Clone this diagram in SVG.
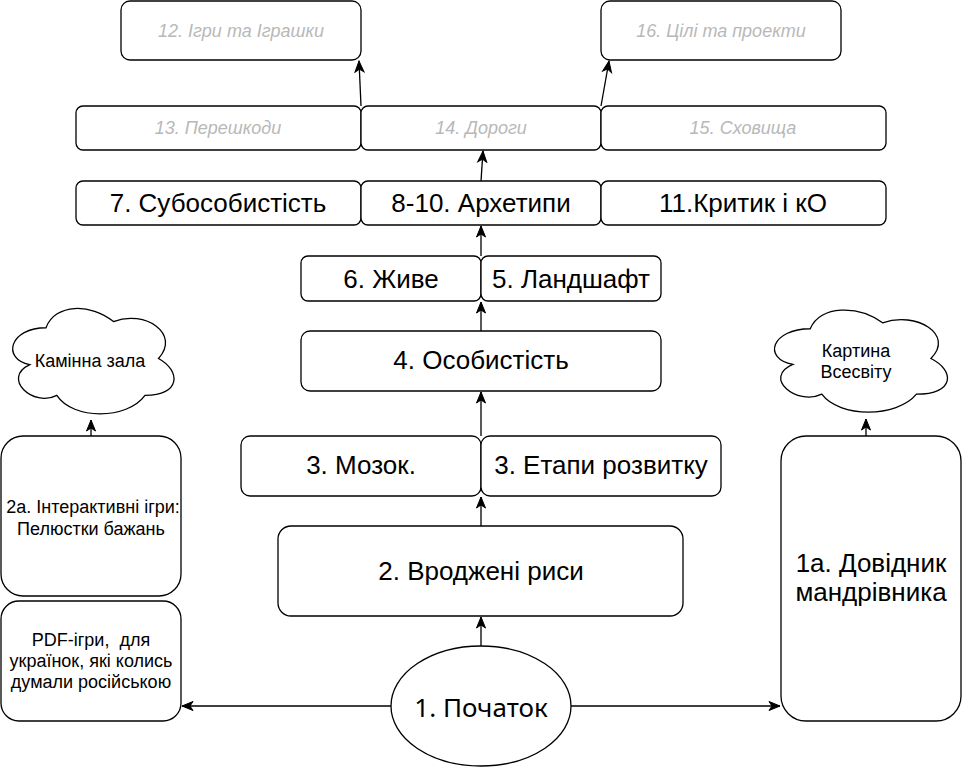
<svg xmlns="http://www.w3.org/2000/svg" width="962" height="767" viewBox="0 0 962 767">
<defs>
<style>
.b{fill:#fff;stroke:#000;stroke-width:1.3}
.t{font-family:"Liberation Sans",Arial,sans-serif;fill:#000;text-anchor:middle}
.l{font-size:26px}
.s{font-size:18px}
.c{font-size:18px}
.g{font-size:18px;font-style:italic;fill:#B8B8B8}
.e{stroke:#000;stroke-width:1.3;fill:none;marker-end:url(#a)}
</style>
<marker id="a" markerUnits="userSpaceOnUse" markerWidth="14" markerHeight="12" viewBox="0 0 14 12" refX="12" refY="6" orient="auto">
<path d="M1,1.5 L12,6 L1,10.5 L4,6 Z" fill="#000" stroke="#000" stroke-width="1"/>
</marker>
</defs>
<rect width="962" height="767" fill="#fff"/>

<g id="n12"><rect class="b" x="121" y="1" width="240" height="59" rx="9"/><text class="t g" x="241" y="37">12. Ігри та Іграшки</text></g>
<g id="n16"><rect class="b" x="601" y="1" width="240" height="59" rx="9"/><text class="t g" x="721" y="37">16. Цілі та проекти</text></g>
<g id="n13"><rect class="b" x="76" y="106" width="285" height="44" rx="7"/><text class="t g" x="218" y="134">13. Перешкоди</text></g>
<g id="n14"><rect class="b" x="361" y="106" width="240" height="44" rx="7"/><text class="t g" x="481" y="134">14. Дороги</text></g>
<g id="n15"><rect class="b" x="601" y="106" width="285" height="44" rx="7"/><text class="t g" x="743" y="134">15. Сховища</text></g>

<g id="n7"><rect class="b" x="76" y="181" width="285" height="44" rx="7"/><text class="t l" x="218" y="212">7. Субособистість</text></g>
<g id="n8"><rect class="b" x="361" y="181" width="240" height="44" rx="7"/><text class="t l" x="481" y="212">8-10. Архетипи</text></g>
<g id="n11"><rect class="b" x="601" y="181" width="285" height="44" rx="7"/><text class="t l" x="743" y="212">11.Критик і кО</text></g>

<g id="n6"><rect class="b" x="301" y="256" width="180" height="45" rx="7"/><text class="t l" x="391" y="288">6. Живе</text></g>
<g id="n5"><rect class="b" x="481" y="256" width="180" height="45" rx="7"/><text class="t l" x="571" y="288">5. Ландшафт</text></g>

<g id="n4"><rect class="b" x="301" y="331" width="360" height="60" rx="9"/><text class="t l" x="481" y="369">4. Особистість</text></g>

<g id="n3a"><rect class="b" x="241" y="436" width="240" height="60" rx="9"/><text class="t l" x="361" y="474">3. Мозок.</text></g>
<g id="n3b"><rect class="b" x="481" y="436" width="240" height="60" rx="9"/><text class="t l" x="601" y="474">3. Етапи розвитку</text></g>

<g id="n2"><rect class="b" x="278" y="526" width="405" height="90" rx="13"/><text class="t l" x="481" y="580">2. Вроджені риси</text></g>

<g id="n1"><ellipse class="b" cx="481" cy="706" rx="90" ry="60"/><text class="t" x="481" y="717" style="font-family:'Noto Sans','Liberation Sans',sans-serif;font-size:26px">1. Початок</text></g>

<g id="n2a"><rect class="b" x="1" y="436" width="180" height="160" rx="22"/><text class="t s"><tspan x="93" y="513">2а. Інтерактивні ігри:</tspan><tspan x="91" y="535">Пелюстки бажань</tspan></text></g>
<g id="npdf"><rect class="b" x="1" y="601" width="180" height="120" rx="18"/><text class="t s"><tspan x="91" y="646">PDF-ігри,&#160; для</tspan><tspan x="91" y="667">українок, які колись</tspan><tspan x="91" y="688">думали російською</tspan></text></g>
<g id="n1a"><rect class="b" x="781" y="436" width="180" height="285" rx="25"/><text class="t l"><tspan x="871" y="572">1а. Довідник</tspan><tspan x="871" y="601">мандрівника</tspan></text></g>

<g id="cloudL"><path class="b" d="M46,327.75 C10,327.75 1,358.5 29.8,364.65 C1,378.18 33.4,407.7 56.8,395.4 C73,420 127,420 145,395.4 C181,395.4 181,370.8 158.5,358.5 C181,333.9 145,309.3 113.5,321.6 C91,303.15 55,303.15 46,327.75 Z"/><text class="t c" x="90" y="367">Камінна зала</text></g>
<g id="cloudR"><path class="b" d="M810.25,328.75 C771.65,328.75 762,358.5 792.88,364.45 C762,377.54 796.74,406.1 821.83,394.2 C839.2,418 897.1,418 916.4,394.2 C955,394.2 955,370.4 930.9,358.5 C955,334.7 916.4,310.9 882.6,322.8 C858.5,304.95 819.9,304.95 810.25,328.75 Z"/><text class="t c"><tspan x="856" y="357">Картина</tspan><tspan x="856" y="378">Всесвіту</tspan></text></g>

<g id="edges">
<line class="e" x1="481" y1="646" x2="481" y2="617"/>
<line class="e" x1="481" y1="526" x2="481" y2="497"/>
<line class="e" x1="481" y1="436" x2="481" y2="392"/>
<line class="e" x1="481" y1="331" x2="481" y2="302"/>
<line class="e" x1="481" y1="256" x2="481" y2="226"/>
<line class="e" x1="481" y1="181" x2="483" y2="151"/>
<line class="e" x1="361" y1="106" x2="359" y2="61"/>
<line class="e" x1="601" y1="106" x2="609" y2="61"/>
<line class="e" x1="91" y1="436" x2="91" y2="420"/>
<line class="e" x1="866" y1="436" x2="866" y2="419"/>
<line class="e" x1="391" y1="706" x2="182" y2="706"/>
<line class="e" x1="571" y1="706" x2="780" y2="706"/>
</g>
</svg>
